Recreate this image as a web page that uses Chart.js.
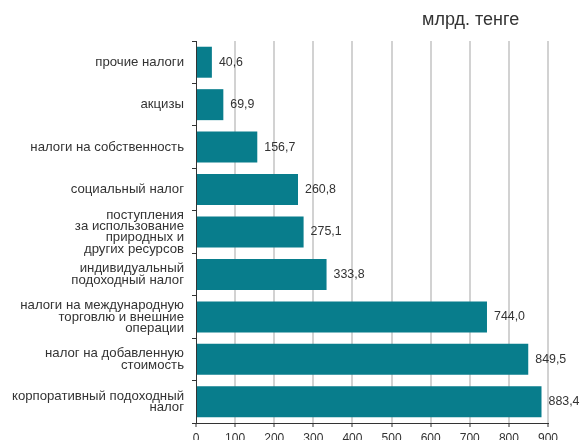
<!DOCTYPE html>
<html>
<head>
<meta charset="utf-8">
<script src="https://cdn.jsdelivr.net/npm/chart.js@4.4.1/dist/chart.umd.min.js"></script>
<style>
  html, body { margin: 0; padding: 0; background: #fff; overflow: hidden; }
  #wrap { position: relative; width: 582px; height: 460px; }
  #unit {
    position: absolute; left: 422px; top: 9px;
    font: 18px "Liberation Sans", Arial, sans-serif; color: #333;
  }
</style>
</head>
<body>
<div id="wrap">
  <div id="unit">млрд. тенге</div>
  <canvas id="barChart" width="582" height="460"></canvas>
</div>
<script>
const categories = [
  "прочие налоги",
  "акцизы",
  "налоги на собственность",
  "социальный налог",
  ["поступления", "за использование", "природных и", "других ресурсов"],
  ["индивидуальный", "подоходный налог"],
  ["налоги на международную", "торговлю и внешние", "операции"],
  ["налог на добавленную", "стоимость"],
  ["корпоративный подоходный", "налог"],
];
const revenues = [40.6, 69.9, 156.7, 260.8, 275.1, 333.8, 744.0, 849.5, 883.4];
const xTicks = [0, 100, 200, 300, 400, 500, 600, 700, 800, 900];

const fontFamily = '"Liberation Sans", Arial, sans-serif';

// value labels to the right of each bar, comma as decimal separator
const valueLabels = {
  id: "valueLabels",
  afterDatasetsDraw(chart) {
    const ctx = chart.ctx;
    const meta = chart.getDatasetMeta(0);
    ctx.save();
    ctx.font = "12.4px " + fontFamily;
    ctx.fillStyle = "#333";
    ctx.textAlign = "left";
    ctx.textBaseline = "middle";
    meta.data.forEach((bar, i) => {
      const text = revenues[i].toFixed(1).replace(".", ",");
      ctx.fillText(text, bar.x + 7, bar.y);
    });
    ctx.restore();
  },
};

new Chart(document.getElementById("barChart").getContext("2d"), {
  type: "bar",
  data: {
    labels: categories,
    datasets: [
      {
        data: revenues,
        backgroundColor: "#087d8c",
        borderWidth: 0,
        barPercentage: 0.73,
        categoryPercentage: 1,
      },
    ],
  },
  options: {
    indexAxis: "y",
    responsive: false,
    animation: false,
    layout: { padding: { top: 41, right: 34, left: 0, bottom: 0 } },
    plugins: {
      legend: { display: false },
      tooltip: { enabled: false },
    },
    scales: {
      x: {
        min: 0,
        max: 900,
        afterBuildTicks: (scale) => {
          scale.ticks = xTicks.map((v) => ({ value: v }));
        },
        afterFit: (scale) => {
          scale.height = 37;
        },
        grid: {
          color: (c) => (c.tick && c.tick.value === 0 ? "rgba(0,0,0,0)" : "#d2d2d2"),
          lineWidth: 2,
          tickColor: "#333",
          tickWidth: 1,
          tickLength: 4,
        },
        border: { display: true, color: "#333", width: 1 },
        ticks: {
          color: "#333",
          padding: 4,
          font: { size: 12, family: fontFamily },
        },
      },
      y: {
        afterFit: (scale) => {
          scale.width = 196;
        },
        grid: {
          drawOnChartArea: false,
          tickColor: "#333",
          tickLength: 4,
        },
        border: { display: true, color: "#333", width: 1 },
        ticks: {
          color: "#333",
          padding: 8,
          autoSkip: false,
          font: { size: 13.2, family: fontFamily, lineHeight: 0.86 },
        },
      },
    },
  },
  plugins: [valueLabels],
});
</script>
</body>
</html>
